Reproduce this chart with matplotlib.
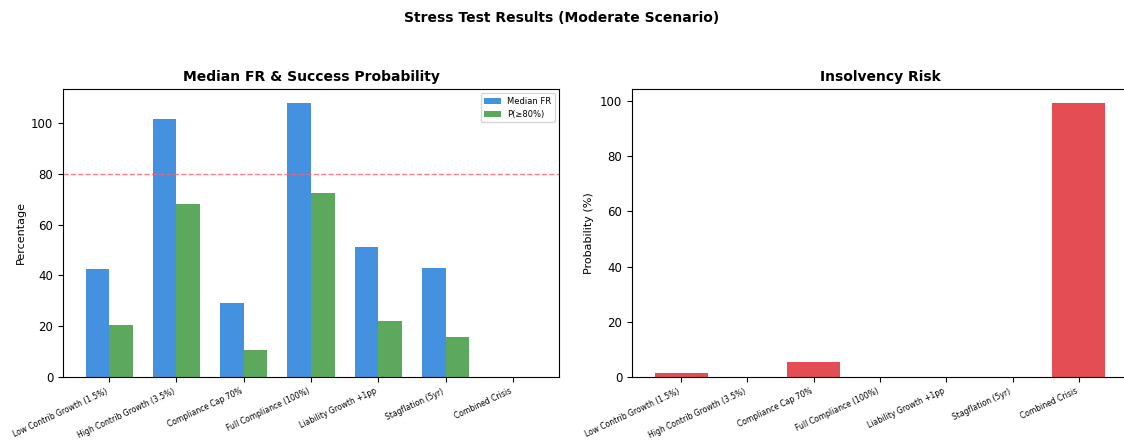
import numpy as np
import matplotlib
matplotlib.use('Agg')
import matplotlib.pyplot as plt

scenarios = ['Low Contrib Growth (1.5%)', 'High Contrib Growth (3.5%)', 'Compliance Cap 70%',
             'Full Compliance (100%)', 'Liability Growth +1pp', 'Stagflation (5yr)', 'Combined Crisis']
median_fr = [42.5, 101.5, 29.0, 108.0, 51.0, 43.0, 0.0]
p_success = [20.6, 68.0, 10.6, 72.4, 22.0, 15.8, 0.0]
insolvency = [1.5, 0.0, 5.6, 0.0, 0.0, 0.0, 99.4]
target = 80

fig = plt.figure(figsize=(11.24, 4.45), dpi=100)
fig.suptitle('Stress Test Results (Moderate Scenario)', fontsize=10, fontweight='bold', y=0.975)

H = 445.0
W = 1124.0
bottom = (H - 377) / H
height = 288 / H
ax1 = fig.add_axes([63 / W, bottom, 496 / W, height])
ax2 = fig.add_axes([632 / W, bottom, 496 / W, height])

x = np.arange(len(scenarios))
w = 0.35
ax1.bar(x - w / 2, median_fr, w, color='#2f86dc', alpha=0.9, label='Median FR')
ax1.bar(x + w / 2, p_success, w, color='#4a9f4a', alpha=0.9, label='P(≥80%)')
ax1.axhline(target, color='#ff5f6f', linestyle='--', linewidth=1, alpha=0.8)
ax1.set_title('Median FR & Success Probability', fontsize=10, fontweight='bold')
ax1.set_ylabel('Percentage', fontsize=8)
ax1.set_xticks(x)
ax1.set_xticklabels(scenarios, rotation=25, ha='right', fontsize=5.5)
ax1.tick_params(axis='y', labelsize=8.5)
ax1.legend(fontsize=6, loc='upper right')

ax2.bar(x, insolvency, 0.8, color='#e03a40', alpha=0.9)
ax2.set_title('Insolvency Risk', fontsize=10, fontweight='bold')
ax2.set_ylabel('Probability (%)', fontsize=8)
ax2.set_xticks(x)
ax2.set_xticklabels(scenarios, rotation=25, ha='right', fontsize=5.5)
ax2.tick_params(axis='y', labelsize=8.5)

plt.savefig('out.png', dpi=100)
